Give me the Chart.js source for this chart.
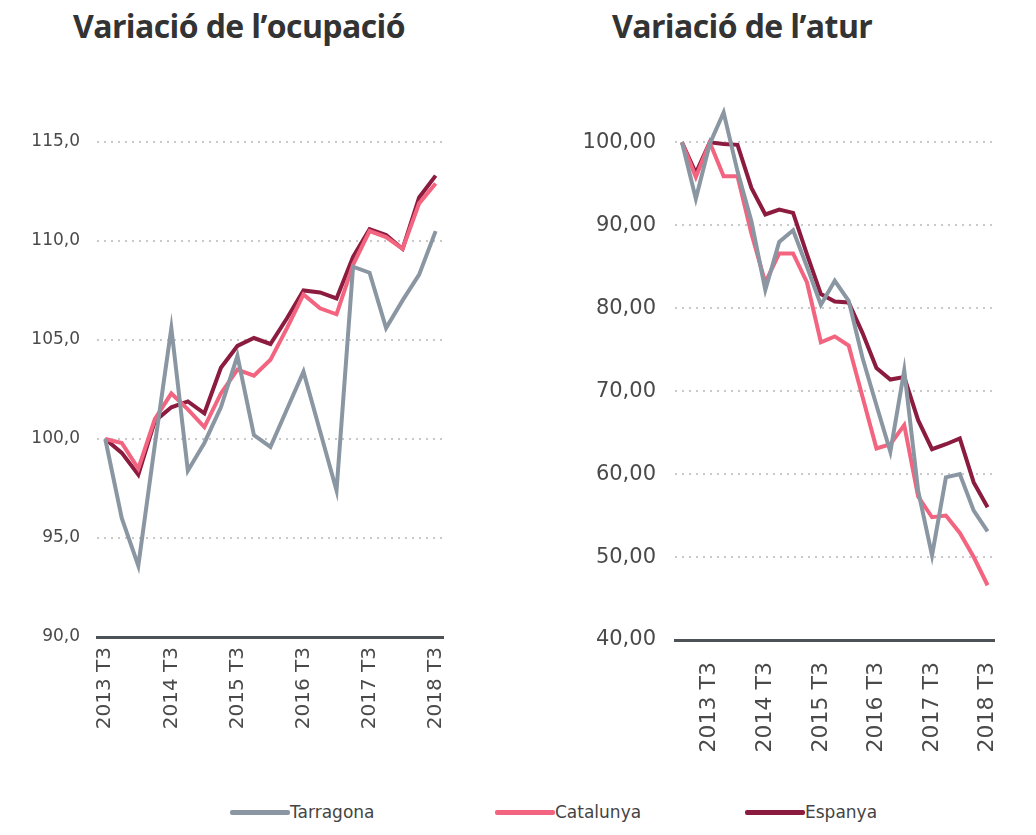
<!DOCTYPE html>
<html>
<head>
<meta charset="utf-8">
<script src="https://cdn.jsdelivr.net/npm/chart.js@4.4.0/dist/chart.umd.min.js"></script>
<style>
  body { margin: 0; background: #fff; width: 1036px; height: 835px; position: relative; overflow: hidden; }
  .title { position: absolute; top: 4px; margin: 0; font-family: "Open Sans", sans-serif; font-weight: 700; font-size: 32px; color: #333; letter-spacing: -0.6px; }
  .box { position: absolute; top: 0; }
  #legend { position: absolute; left: 230px; top: 802px; display: flex; font-family: "DejaVu Sans", sans-serif; font-size: 17px; color: #444; }
  #legend .item { display: flex; align-items: center; }
  #legend .swatch { width: 60px; height: 5px; border-radius: 2px; }
</style>
</head>
<body>
<h2 class="title" style="left:73px">Variació de l’ocupació</h2>
<h2 class="title" style="left:612px">Variació de l’atur</h2>
<div class="box" style="left:0;width:470px;height:760px"><canvas id="ocupacio"></canvas></div>
<div class="box" style="left:560px;width:476px;height:780px"><canvas id="atur"></canvas></div>
<div id="legend"></div>
<script>
var seriesNames = ['Tarragona', 'Catalunya', 'Espanya'];
var seriesColors = ['#8a96a1', '#f2647f', '#8c1c3f'];

// ocupació: 2013 T3 .. 2018 T3
var quartersOcupacio = ['2013 T3', '2013 T4', '2014 T1', '2014 T2', '2014 T3', '2014 T4', '2015 T1', '2015 T2',
  '2015 T3', '2015 T4', '2016 T1', '2016 T2', '2016 T3', '2016 T4', '2017 T1', '2017 T2',
  '2017 T3', '2017 T4', '2018 T1', '2018 T2', '2018 T3'];
var ocupTarragona = [100.0, 96.0, 93.6, 99.7, 105.6, 98.4, 99.8, 101.6, 104.2, 100.2, 99.6, 101.5, 103.4, 100.4, 97.4, 108.7, 108.4, 105.6, 107.0, 108.3, 110.5];
var ocupCatalunya = [100.0, 99.8, 98.5, 101.0, 102.3, 101.5, 100.6, 102.3, 103.5, 103.2, 104.0, 105.6, 107.3, 106.6, 106.3, 108.8, 110.5, 110.2, 109.6, 111.9, 112.9];
var ocupEspanya = [100.0, 99.3, 98.2, 100.9, 101.6, 101.9, 101.3, 103.6, 104.7, 105.1, 104.8, 106.1, 107.5, 107.4, 107.1, 109.2, 110.6, 110.3, 109.6, 112.2, 113.3];

// atur: 2013 T1 .. 2018 T3
var quartersAtur = ['2013 T1', '2013 T2', '2013 T3', '2013 T4', '2014 T1', '2014 T2', '2014 T3', '2014 T4',
  '2015 T1', '2015 T2', '2015 T3', '2015 T4', '2016 T1', '2016 T2', '2016 T3', '2016 T4',
  '2017 T1', '2017 T2', '2017 T3', '2017 T4', '2018 T1', '2018 T2', '2018 T3'];
var aturTarragona = [100.0, 93.2, 99.8, 103.6, 96.5, 90.5, 82.2, 88.0, 89.4, 85.0, 80.4, 83.3, 80.9, 74.0, 68.3, 62.7, 72.5, 58.0, 50.2, 59.6, 60.0, 55.6, 53.1];
var aturCatalunya = [100.0, 95.8, 100.0, 95.9, 95.9, 89.0, 83.1, 86.6, 86.6, 83.1, 75.9, 76.6, 75.5, 69.3, 63.1, 63.6, 65.9, 57.3, 54.8, 55.0, 52.9, 50.0, 46.6];
var aturEspanya = [100.0, 96.3, 100.0, 99.8, 99.7, 94.5, 91.3, 91.9, 91.5, 86.5, 81.7, 80.8, 80.7, 77.0, 72.8, 71.4, 71.7, 66.5, 63.0, 63.6, 64.3, 59.0, 56.0];

var tickFont = 'DejaVu Sans';
var tickColor = '#4a4a4a';

function makeDatasets(values) {
  return values.map(function(v, i) {
    return {
      label: seriesNames[i],
      data: v,
      borderColor: seriesColors[i],
      backgroundColor: seriesColors[i],
      borderWidth: 4,
      pointRadius: 0,
      tension: 0,
      clip: false
    };
  });
}

function makeChart(id, labels, values, opt) {
  return new Chart(document.getElementById(id), {
    type: 'line',
    data: { labels: labels, datasets: makeDatasets(values) },
    options: {
      responsive: true,
      maintainAspectRatio: false,
      animation: false,
      layout: { padding: { top: opt.top, right: opt.right, left: 0, bottom: 0 } },
      plugins: { legend: { display: false }, tooltip: { enabled: false } },
      scales: {
        x: {
          offset: true,
          grid: { display: false, drawTicks: false },
          border: { display: true, color: '#4d5256', width: 3 },
          afterFit: function(s) { s.height = opt.xHeight; },
          ticks: {
            autoSkip: false,
            maxRotation: 90,
            minRotation: 90,
            padding: opt.xPad,
            color: tickColor,
            font: { family: tickFont, size: opt.xSize },
            callback: function(v) {
              var l = this.getLabelForValue(v);
              return l.slice(-2) === 'T3' ? l : '';
            }
          }
        },
        y: {
          min: opt.min,
          max: opt.max,
          afterFit: function(s) { s.width = opt.yWidth; },
          afterBuildTicks: function(s) {
            s.ticks = s.ticks.filter(function(t) { return t.value <= opt.topTick && (t.value - opt.min) % opt.step === 0; });
          },
          grid: { color: '#c9c9c9', lineWidth: 2, drawTicks: false },
          border: { display: false, dash: [2, 5] },
          ticks: {
            stepSize: opt.step,
            padding: opt.yPad,
            color: tickColor,
            font: { family: tickFont, size: opt.ySize },
            callback: function(v) { return v.toFixed(opt.dec).replace('.', ','); }
          }
        }
      }
    }
  });
}

makeChart('ocupacio', quartersOcupacio, [ocupTarragona, ocupCatalunya, ocupEspanya], {
  top: 142, right: 15, xHeight: 123, yWidth: 97, min: 90, max: 115, topTick: 115, step: 5,
  dec: 1, xPad: 10, yPad: 17, xSize: 20, ySize: 17
});
makeChart('atur', quartersAtur, [aturTarragona, aturCatalunya, aturEspanya], {
  top: 105, right: 0, xHeight: 140, yWidth: 115, min: 40, max: 104.5, topTick: 100, step: 10,
  dec: 2, xPad: 22, yPad: 19, xSize: 22, ySize: 21
});

var legend = document.getElementById('legend');
var widths = [265, 250, 160];
seriesNames.forEach(function(n, i) {
  var item = document.createElement('div');
  item.className = 'item';
  item.style.width = widths[i] + 'px';
  var sw = document.createElement('span');
  sw.className = 'swatch';
  sw.style.background = seriesColors[i];
  var tx = document.createElement('span');
  tx.textContent = n;
  item.appendChild(sw);
  item.appendChild(tx);
  legend.appendChild(item);
});
</script>
</body>
</html>
